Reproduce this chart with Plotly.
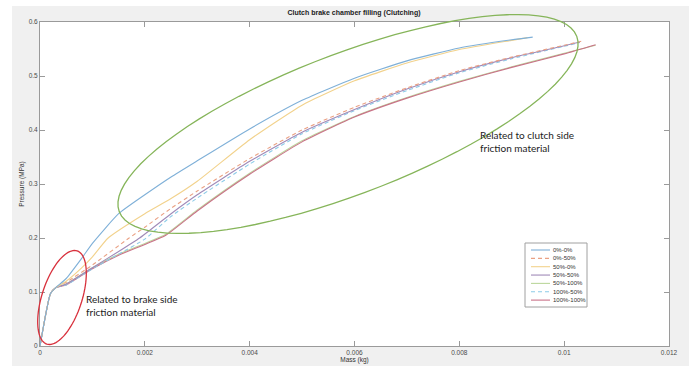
import math
import plotly.graph_objects as go

# ---------------- data ----------------
series_names = ["0%-0%", "0%-50%", "50%-0%", "50%-50%", "50%-100%", "100%-50%", "100%-100%"]

m_00 = [0, 0.0002, 0.0003, 0.0005, 0.0008, 0.001, 0.0015, 0.002, 0.0025, 0.003, 0.004, 0.005, 0.006, 0.007, 0.008, 0.009, 0.0094]
p_00 = [0, 0.097, 0.108, 0.125, 0.163, 0.19, 0.245, 0.28, 0.313, 0.343, 0.402, 0.455, 0.496, 0.528, 0.552, 0.567, 0.572]

m_050 = [0, 0.0002, 0.0003, 0.0005, 0.001, 0.0017, 0.002, 0.0025, 0.003, 0.004, 0.005, 0.006, 0.007, 0.008, 0.009, 0.01, 0.01036]
p_050 = [0, 0.097, 0.108, 0.118, 0.15, 0.2, 0.22, 0.255, 0.287, 0.347, 0.4, 0.442, 0.478, 0.51, 0.535, 0.557, 0.565]

m_500 = [0, 0.0002, 0.0003, 0.0005, 0.0008, 0.001, 0.0013, 0.002, 0.0025, 0.003, 0.004, 0.005, 0.006, 0.007, 0.008, 0.009, 0.0093]
p_500 = [0, 0.097, 0.108, 0.12, 0.145, 0.165, 0.2, 0.245, 0.273, 0.305, 0.382, 0.446, 0.491, 0.524, 0.549, 0.566, 0.571]

m_5050 = [0, 0.0002, 0.0003, 0.0005, 0.001, 0.0015, 0.0019, 0.0025, 0.003, 0.004, 0.005, 0.006, 0.007, 0.008, 0.009, 0.01, 0.0103]
p_5050 = [0, 0.097, 0.108, 0.115, 0.145, 0.175, 0.2, 0.245, 0.28, 0.342, 0.396, 0.438, 0.476, 0.508, 0.534, 0.556, 0.563]

m_50100 = [0, 0.0002, 0.0003, 0.0005, 0.001, 0.0015, 0.002, 0.0024, 0.003, 0.004, 0.005, 0.006, 0.007, 0.008, 0.009, 0.01, 0.0106]
p_50100 = [0, 0.097, 0.108, 0.115, 0.145, 0.17, 0.19, 0.207, 0.252, 0.32, 0.38, 0.425, 0.46, 0.49, 0.517, 0.542, 0.557]

m_10050 = [0, 0.0002, 0.0003, 0.0005, 0.001, 0.0015, 0.002, 0.0025, 0.003, 0.004, 0.005, 0.006, 0.007, 0.008, 0.009, 0.01, 0.0103]
p_10050 = [0, 0.097, 0.108, 0.113, 0.143, 0.17, 0.198, 0.24, 0.274, 0.337, 0.393, 0.436, 0.473, 0.506, 0.532, 0.555, 0.562]

m_100100 = [0, 0.0002, 0.0003, 0.0005, 0.001, 0.0015, 0.002, 0.0024, 0.003, 0.004, 0.005, 0.006, 0.007, 0.008, 0.009, 0.01, 0.0106]
p_100100 = [0, 0.097, 0.108, 0.113, 0.143, 0.168, 0.188, 0.205, 0.25, 0.318, 0.378, 0.424, 0.459, 0.489, 0.516, 0.541, 0.558]

x_tickvals = [0, 0.002, 0.004, 0.006, 0.008, 0.01, 0.012]
x_ticktext = ["0", "0.002", "0.004", "0.006", "0.008", "0.01", "0.012"]
y_tickvals = [0, 0.1, 0.2, 0.3, 0.4, 0.5, 0.6]
y_ticktext = ["0", "0.1", "0.2", "0.3", "0.4", "0.5", "0.6"]

# ---------------- styles ----------------
colors = ["#7fb0d8", "#eaa184", "#f2d28c", "#a08ab8", "#bcd79c", "#8ccbe8", "#c97288"]
dashes = ["solid", "4px,3px", "solid", "solid", "solid", "4px,3px", "solid"]
xs = [m_00, m_050, m_500, m_5050, m_50100, m_10050, m_100100]
ys = [p_00, p_050, p_500, p_5050, p_50100, p_10050, p_100100]

W, H = 689, 366
L, R, T, B = 40, 20, 22, 20
PW, PH = W - L - R, H - T - B


def px2paper(px, py):
    return (px - L) / PW, (H - B - py) / PH


fig = go.Figure()
for i in [4, 6, 5, 3, 1, 2, 0]:
    fig.add_trace(go.Scatter(
        x=xs[i], y=ys[i], mode="lines", name=series_names[i],
        line=dict(color=colors[i], width=1.1, dash=dashes[i], shape="spline", smoothing=0.5),
        showlegend=False, hoverinfo="skip"))

shapes = []
# outer white strips (left / top)
shapes.append(dict(type="rect", xref="paper", yref="paper",
                   x0=px2paper(0, 0)[0], x1=px2paper(12, 0)[0], y0=px2paper(0, H)[1], y1=px2paper(0, 0)[1],
                   fillcolor="white", line=dict(width=0), layer="below"))
shapes.append(dict(type="rect", xref="paper", yref="paper",
                   x0=px2paper(0, 0)[0], x1=px2paper(W, 0)[0], y0=px2paper(0, 6)[1], y1=px2paper(0, 0)[1],
                   fillcolor="white", line=dict(width=0), layer="below"))


def ellipse_path(cx, cy, a, b, ang_deg, n=90):
    ang = math.radians(ang_deg)
    pts = []
    for k in range(n + 1):
        t = 2 * math.pi * k / n
        ex, ey = a * math.cos(t), b * math.sin(t)
        px = cx + ex * math.cos(ang) - ey * math.sin(ang)
        py = cy - (ex * math.sin(ang) + ey * math.cos(ang))
        pts.append(px2paper(px, py))
    return "M " + " L ".join(f"{x:.5f},{y:.5f}" for x, y in pts) + " Z"


shapes.append(dict(type="path", xref="paper", yref="paper", path=ellipse_path(348, 124, 245, 70, 21),
                   line=dict(color="#86b55a", width=1.3)))
shapes.append(dict(type="path", xref="paper", yref="paper", path=ellipse_path(62, 297.5, 49, 20, 72),
                   line=dict(color="#d8303c", width=1.3)))

# custom legend
lx0, ly0 = px2paper(525, 307)
lx1, ly1 = px2paper(587, 243)
shapes.append(dict(type="rect", xref="paper", yref="paper", x0=lx0, x1=lx1, y0=ly0, y1=ly1,
                   fillcolor="white", line=dict(color="#a0a0a0", width=1)))
annotations = []
for i, nm in enumerate(series_names):
    ry = 250 + i * 8.35
    a0 = px2paper(531, ry)
    a1 = px2paper(550, ry)
    shapes.append(dict(type="line", xref="paper", yref="paper", x0=a0[0], x1=a1[0], y0=a0[1], y1=a1[1],
                       line=dict(color=colors[i], width=1.1, dash=dashes[i])))
    t = px2paper(552, ry)
    annotations.append(dict(xref="paper", yref="paper", x=t[0], y=t[1], text=nm, showarrow=False,
                            xanchor="left", yanchor="middle", font=dict(size=6, color="#333", family="Arial, Liberation Sans"),
                            borderpad=0))

bx, by = px2paper(84, 305.5)
annotations.append(dict(xref="paper", yref="paper", x=bx, y=by, showarrow=False, xanchor="left", yanchor="middle",
                        align="left", text="Related to brake side<br>friction material",
                        font=dict(size=10, color="#222", family="Lato")))
cx_, cy_ = px2paper(478, 141.5)
annotations.append(dict(xref="paper", yref="paper", x=cx_, y=cy_, showarrow=False, xanchor="left", yanchor="middle",
                        align="left", text="Related to clutch side<br>friction material",
                        font=dict(size=10, color="#222", family="Lato")))

axis_common = dict(showline=True, linecolor="#9a9a9a", linewidth=1, mirror="ticks", ticks="inside",
                   ticklen=5, tickcolor="#9a9a9a", showgrid=False, zeroline=False,
                   tickfont=dict(size=6.5, color="#4a4a4a", family="Arial, Liberation Sans"))

fig.update_layout(
    width=W, height=H,
    margin=dict(l=L, r=R, t=T, b=B, autoexpand=False),
    paper_bgcolor="#f0f0f0", plot_bgcolor="white",
    title=dict(text="<b>Clutch brake chamber filling (Clutching)</b>", x=px2paper(354, 0)[0], xref="paper",
               xanchor="center", y=1 - 13 / H, yanchor="middle",
               font=dict(size=7, color="#222", family="Arial, Liberation Sans")),
    xaxis=dict(range=[0, 0.012], tickvals=x_tickvals, ticktext=x_ticktext,
               title=dict(text="Mass (kg)", standoff=0, font=dict(size=6.5, color="#333", family="Arial, Liberation Sans")),
               **axis_common),
    yaxis=dict(range=[0, 0.6], tickvals=y_tickvals, ticktext=y_ticktext,
               title=dict(text="Pressure (MPa)", standoff=3, font=dict(size=6.5, color="#333", family="Arial, Liberation Sans")),
               **axis_common),
    shapes=shapes, annotations=annotations,
)
fig.update_xaxes(automargin=False)
fig.update_yaxes(automargin=False)

fig.write_html("out.html", config={"displayModeBar": False},
               post_script="document.body.style.margin='0';document.body.style.overflow='hidden';")
